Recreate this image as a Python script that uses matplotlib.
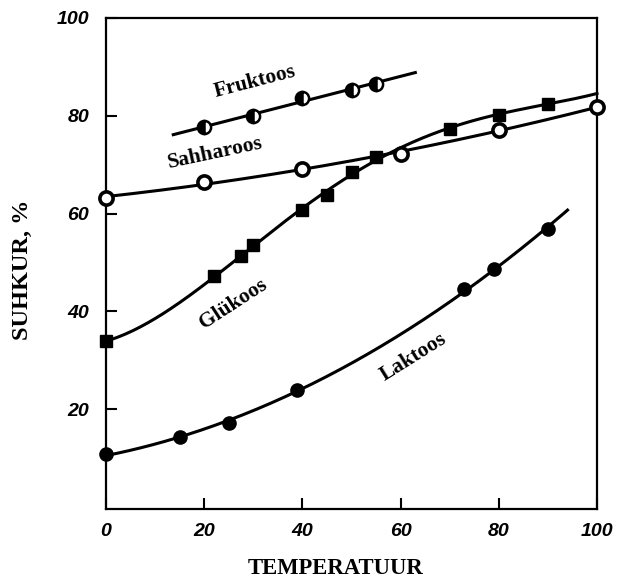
import numpy as np
import matplotlib
matplotlib.use("Agg")
import matplotlib.pyplot as plt

# ---- data ----
fr_x = [20, 30, 40, 50, 55]
fr_y = [77.7, 80.0, 83.7, 85.3, 86.6]

sa_x = [0, 20, 40, 60, 80, 100]
sa_y = [63.2, 66.5, 69.1, 72.2, 77.1, 81.8]

gl_x = [0, 22, 27.5, 30, 40, 45, 50, 55, 70, 80, 90]
gl_y = [33.9, 47.2, 51.3, 53.6, 60.7, 63.8, 68.5, 71.6, 77.3, 80.2, 82.5]

la_x = [0, 15, 25, 39, 73, 79, 90]
la_y = [10.8, 14.3, 17.1, 23.9, 44.6, 48.6, 56.9]

x_ticks = [0, 20, 40, 60, 80, 100]
y_ticks = [20, 40, 60, 80, 100]

fig = plt.figure(figsize=(6.22, 5.78), dpi=100)
ax = fig.add_axes([106/622, 1-509/578, (597-106)/622, (509-18)/578])
ax.set_xlim(0, 100)
ax.set_ylim(-0.4, 100)

lw = 2.2

def fit_line(xs, ys, deg, x0, x1):
    c = np.polyfit(xs, ys, deg)
    xx = np.linspace(x0, x1, 200)
    ax.plot(xx, np.polyval(c, xx), color="black", lw=lw, zorder=2, clip_on=False)

fit_line(fr_x, fr_y, 1, 13.7, 63)
fit_line(sa_x, sa_y, 2, 0, 100)
fit_line(gl_x, gl_y, 4, 0, 100)
fit_line(la_x, la_y, 2, 0, 94)

ms = 9.5
ax.plot(fr_x, fr_y, ls="none", marker="o", ms=ms, fillstyle="left",
        markerfacecolor="black", markerfacecoloralt="white",
        markeredgecolor="black", mew=1.8, zorder=3)
ax.plot(sa_x, sa_y, ls="none", marker="o", ms=ms, markerfacecolor="white",
        markeredgecolor="black", mew=2.6, zorder=3, clip_on=False)
ax.plot(gl_x, gl_y, ls="none", marker="s", ms=ms-1, color="black", zorder=3, clip_on=False)
ax.plot(la_x, la_y, ls="none", marker="o", ms=ms, color="black", zorder=3, clip_on=False)

serif = dict(family="Liberation Serif", weight="bold")
tk = dict(color="black", ha="center", va="center", rotation_mode="anchor", fontsize=15.5, **serif)
ax.text(30.3, 87.0, "Fruktoos", rotation=14.5, **tk)
ax.text(22.2, 72.4, "Sahharoos", rotation=12, **tk)
ax.text(25.9, 41.5, "Glükoos", rotation=33, **tk)
ax.text(62.7, 30.6, "Laktoos", rotation=32, **tk)

ax.set_xticks(x_ticks)
ax.set_yticks(y_ticks)
ax.set_xticklabels([str(v) for v in x_ticks])
ax.set_yticklabels([str(v) for v in y_ticks])
for lab in ax.get_xticklabels() + ax.get_yticklabels():
    lab.set_fontfamily("Liberation Sans")
    lab.set_fontstyle("italic")
    lab.set_fontweight("bold")
    lab.set_fontsize(14)
ax.tick_params(direction="in", length=8, width=1.5, pad=12)
ax.tick_params(axis="x", pad=10)
for s in ax.spines.values():
    s.set_linewidth(1.6)

fig.text(336/622, 1-568/578, "TEMPERATUUR", fontsize=16.3, ha="center", va="center", **serif)
fig.text(22/622, 1-270/578, "SUHKUR, %", fontsize=17.5, ha="center", va="center",
         rotation=90, **serif)

fig.savefig("out.png", dpi=100)
